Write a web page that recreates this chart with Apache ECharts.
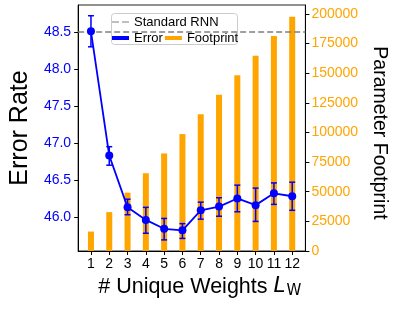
<!DOCTYPE html>
<html>
<head>
<meta charset="utf-8">
<script src="https://cdn.jsdelivr.net/npm/echarts@6/dist/echarts.min.js"></script>
<style>html,body{margin:0;padding:0;background:#fff}#c{width:397px;height:312px}</style>
</head>
<body>
<div id="c"></div>
<script>
const categories = [1, 2, 3, 4, 5, 6, 7, 8, 9, 10, 11, 12];
const errorRate = [48.51, 46.83, 46.13, 45.96, 45.84, 45.82, 46.09, 46.14, 46.25, 46.16, 46.32, 46.28];
const errorLow  = [48.30, 46.70, 46.03, 45.78, 45.69, 45.71, 45.97, 46.01, 46.07, 45.94, 46.17, 46.09];
const errorHigh = [48.72, 46.95, 46.24, 46.13, 45.98, 45.91, 46.20, 46.26, 46.43, 46.39, 46.46, 46.47];
const footprint = [16400, 32800, 49200, 65600, 82300, 98600, 115300, 131800, 148200, 164700, 181300, 197600];
const standardRNN = 48.5;
const leftTicks = [46.0, 46.5, 47.0, 47.5, 48.0, 48.5];
const rightTicks = [0, 25000, 50000, 75000, 100000, 125000, 150000, 175000, 200000];

const FONT = 'Liberation Sans';
const BLUE = '#0000ff';
const ORANGE = '#ffa500';

const chart = echarts.init(document.getElementById('c'), null, {renderer: 'canvas'});
chart.setOption({
  animation: false,
  textStyle: {fontFamily: FONT},
  grid: {left: 76, right: 88, top: 5, bottom: 61, show: true, borderColor: '#222', borderWidth: 1, backgroundColor: 'transparent'},
  graphic: [{
    type: 'rect', z: 3,
    shape: {x: 111.5, y: 13.5, width: 126, height: 31, r: 3},
    style: {fill: 'rgba(255,255,255,0.8)', stroke: '#cccccc', lineWidth: 1}
  }],
  legend: [{
    data: ['Standard RNN'], left: 112, top: 15.5, padding: 0, z: 5,
    itemWidth: 17, itemHeight: 2,
    icon: 'path://M0,0H7V1H0ZM10,0H17V1H10Z',
    textStyle: {fontFamily: FONT, fontSize: 13, color: '#000'}
  }, {
    data: ['Error', 'Footprint'], left: 112, top: 31.5, padding: 0, z: 5,
    itemWidth: 17, itemHeight: 4, itemGap: 2, icon: 'rect',
    textStyle: {fontFamily: FONT, fontSize: 13, color: '#000'}
  }],
  xAxis: {
    type: 'value', min: 0.3, max: 12.72,
    name: '# Unique Weights {i|L}{s|W}',
    nameLocation: 'middle', nameGap: 23,
    nameTextStyle: {fontFamily: FONT, fontSize: 21.5, color: '#000', padding: [0, 0, 0, 16],
      rich: {i: {fontFamily: 'DejaVu Sans', fontStyle: 'italic', fontSize: 21.5, color: '#000', padding: [0, 1, 0, 0]},
             s: {fontFamily: 'DejaVu Sans', fontSize: 15, color: '#000', padding: [9, 0, 0, 0]}}},
    splitLine: {show: false},
    axisLine: {show: true, lineStyle: {color: '#000'}},
    axisTick: {show: true, inside: false, length: 4, lineStyle: {color: '#000'}, customValues: categories},
    axisLabel: {customValues: categories, fontSize: 14, color: '#000', margin: 6, fontFamily: FONT}
  },
  yAxis: [{
    type: 'value', min: 45.54, max: 48.865, position: 'left',
    name: 'Error Rate', nameLocation: 'middle', nameGap: 34, nameRotate: 90,
    nameTextStyle: {fontFamily: FONT, fontSize: 25, color: '#000'},
    splitLine: {show: false},
    axisLine: {show: true, lineStyle: {color: '#000'}},
    axisTick: {show: true, length: 4, lineStyle: {color: '#000'}, customValues: leftTicks},
    axisLabel: {customValues: leftTicks, fontSize: 14, color: BLUE, margin: 7, fontFamily: FONT,
      formatter: v => v.toFixed(1)}
  }, {
    type: 'value', min: 0, max: 207500, position: 'right',
    name: 'Parameter Footprint', nameLocation: 'middle', nameGap: 58, nameRotate: -90,
    nameTextStyle: {fontFamily: FONT, fontSize: 19.5, color: '#000', padding: [0, 0, 0, 10]},
    splitLine: {show: false},
    axisLine: {show: true, lineStyle: {color: '#000'}},
    axisTick: {show: true, length: 4, lineStyle: {color: '#000'}, customValues: rightTicks},
    axisLabel: {customValues: rightTicks, fontSize: 14, color: ORANGE, margin: 6, fontFamily: FONT,
      formatter: v => String(v)}
  }],
  series: [{
    name: 'Standard RNN', type: 'line', data: [], z: 1,
    color: '#808080',
    lineStyle: {color: '#808080', type: 'dashed', width: 1.5},
    itemStyle: {color: '#808080'},
    markLine: {
      silent: true, symbol: ['none', 'none'], label: {show: false},
      lineStyle: {color: '#808080', type: [6, 3], width: 1.5},
      data: [{yAxis: standardRNN}]
    }
  }, {
    name: 'Footprint', type: 'bar', yAxisIndex: 1, barWidth: 6, z: 2,
    itemStyle: {color: ORANGE},
    data: categories.map((c, i) => [c, footprint[i]])
  }, {
    name: 'ErrorBars', type: 'custom', yAxisIndex: 0, z: 4,
    renderItem: function (params, api) {
      const x = api.value(0);
      const lo = api.coord([x, api.value(1)]);
      const hi = api.coord([x, api.value(2)]);
      const w = 3;
      const st = {stroke: BLUE, lineWidth: 1.5};
      return {type: 'group', children: [
        {type: 'line', shape: {x1: lo[0], y1: lo[1], x2: hi[0], y2: hi[1]}, style: st},
        {type: 'line', shape: {x1: lo[0] - w, y1: lo[1], x2: lo[0] + w, y2: lo[1]}, style: st},
        {type: 'line', shape: {x1: hi[0] - w, y1: hi[1], x2: hi[0] + w, y2: hi[1]}, style: st}
      ]};
    },
    data: categories.map((c, i) => [c, errorLow[i], errorHigh[i]])
  }, {
    name: 'Error', type: 'line', yAxisIndex: 0, z: 5,
    symbol: 'circle', symbolSize: 8,
    color: BLUE,
    lineStyle: {color: BLUE, width: 1.8},
    itemStyle: {color: BLUE},
    data: categories.map((c, i) => [c, errorRate[i]])
  }]
});
</script>
</body>
</html>
